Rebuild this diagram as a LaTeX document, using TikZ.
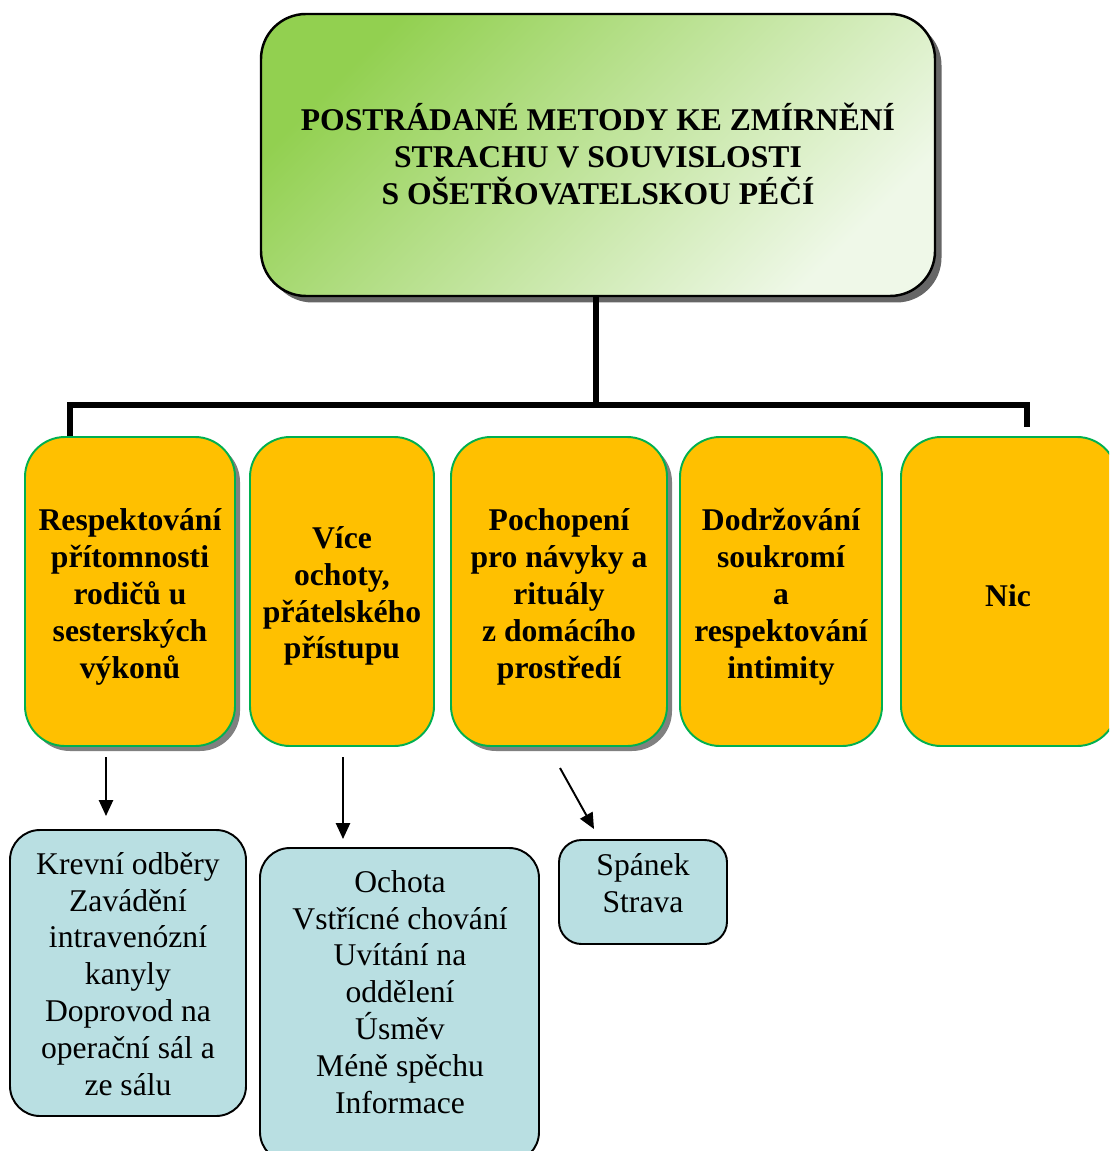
\documentclass[tikz,border=0pt]{standalone}
\usepackage{fontspec}
\setmainfont{Liberation Serif}
\usetikzlibrary{shadows,arrows.meta,fit}
\definecolor{leafgreen}{HTML}{92D050}
\definecolor{palegreen}{HTML}{EFF8E8}
\definecolor{amber}{HTML}{FFC000}
\definecolor{rimgreen}{HTML}{00B050}
\definecolor{paleblue}{HTML}{B9DFE2}

\begin{document}
\begin{tikzpicture}[x=0.02cm, y=-0.02cm,
  every node/.style={inner sep=0pt, align=center, font=\fontsize{18}{21}\selectfont},
  titlebox/.style={draw=black, line width=1.4pt, rounded corners=0.9cm,
    top color=leafgreen, bottom color=palegreen, shading angle=45,
    drop shadow={shadow xshift=0.13cm, shadow yshift=-0.13cm, fill=black!60, opacity=1}},
  obox/.style={draw=rimgreen, line width=1.1pt, fill=amber, rounded corners=0.8cm},
  shadowed/.style={drop shadow={shadow xshift=0.1cm, shadow yshift=-0.1cm, fill=black!50, opacity=1}},
  bbox/.style={draw=black, line width=1.1pt, fill=paleblue, rounded corners=0.6cm},
  boldtext/.style={font=\bfseries\fontsize{18}{21}\selectfont},
  trunk/.style={line width=2.9pt, line join=miter},
  arr/.style={line width=1.1pt, -{Triangle[length=9pt,width=8pt]}}
]
\path[use as bounding box] (0,0) rectangle (1109,1151);
\clip (0,0) rectangle (1109,1151);

% heading
\node (top) [titlebox, fit={(261,14) (935,296)}] {};
\node (topt) at (598,154) [boldtext]
  {POSTRÁDANÉ METODY KE ZMÍRNĚNÍ\\STRACHU V SOUVISLOSTI\\S OŠETŘOVATELSKOU PÉČÍ};

% second level
\node (o1) [obox, shadowed, fit={(25,437) (235,746)}] {};
\node (o2) [obox, fit={(250,437) (434,746)}] {};
\node (o3) [obox, shadowed, fit={(451,437) (667,746)}] {};
\node (o4) [obox, fit={(680,437) (882,746)}] {};
\node (o5) [obox, fit={(901,437) (1117,746)}] {};
\node (o1t) at (130,597) [boldtext]
  {Respektování\\přítomnosti\\rodičů u\\sesterských\\výkonů};
\node (o2t) at (342,596) [boldtext]
  {Více\\ochoty,\\přátelského\\přístupu};
\node (o3t) at (559,597) [boldtext]
  {Pochopení\\pro návyky a\\rituály\\z domácího\\prostředí};
\node (o4t) at (781,597) [boldtext]
  {Dodržování\\soukromí\\a\\respektování\\intimity};
\node (o5t) at (1008,596) [boldtext] {Nic};

% branching lines
\coordinate (hub) at (596,405);
\coordinate (lx) at (70,0);
\coordinate (rend) at (1027,427);
\draw[trunk] (top.south -| hub) -- (hub);
\draw[trunk] (hub) -| (o1.north -| lx);
\draw[trunk] (hub) -| (rend);

% third level
\node (b1) [bbox, fit={(10,830) (246,1116)}] {};
\node (b2) [bbox, fit={(260,848) (539,1162)}] {};
\node (b3) [bbox, rounded corners=0.45cm, fit={(559,840) (727,944)}] {};
\node (b1t) at (128,974)
  {Krevní odběry\\Zavádění\\intravenózní\\kanyly\\Doprovod na\\operační sál a\\ze sálu};
\node (b2t) at (400,992)
  {Ochota\\Vstřícné chování\\Uvítání na\\oddělení\\Úsměv\\Méně spěchu\\Informace};
\node (b3t) at (643,883) {Spánek\\Strava};

% arrows
\coordinate (a1s) at (106,757);
\coordinate (a1e) at (106,816);
\coordinate (a2s) at (343,757);
\coordinate (a2e) at (343,839);
\coordinate (a3s) at (560,768);
\coordinate (a3e) at (594,829);
\draw[arr] (a1s) -- (a1e);
\draw[arr] (a2s) -- (a2e);
\draw[arr] (a3s) -- (a3e);
\end{tikzpicture}
\end{document}
